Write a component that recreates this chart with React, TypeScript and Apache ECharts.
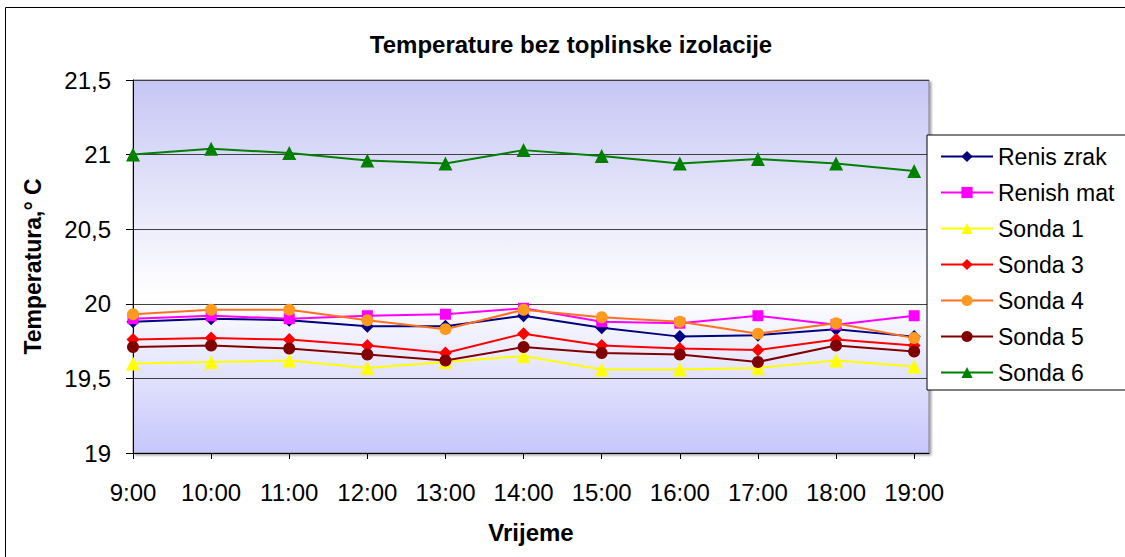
import React, { useEffect, useRef } from "react";
import * as echarts from "echarts";

const categories = ["9:00", "10:00", "11:00", "12:00", "13:00", "14:00", "15:00", "16:00", "17:00", "18:00", "19:00"];
const renisZrak = [19.88, 19.90, 19.89, 19.85, 19.85, 19.92, 19.84, 19.78, 19.79, 19.83, 19.78];
const renishMat = [19.90, 19.92, 19.90, 19.92, 19.93, 19.97, 19.88, 19.87, 19.92, 19.86, 19.92];
const sonda1 = [19.60, 19.61, 19.62, 19.57, 19.61, 19.65, 19.56, 19.56, 19.57, 19.62, 19.58];
const sonda3 = [19.76, 19.77, 19.76, 19.72, 19.67, 19.80, 19.72, 19.70, 19.69, 19.76, 19.72];
const sonda4 = [19.93, 19.96, 19.96, 19.89, 19.83, 19.96, 19.91, 19.88, 19.80, 19.87, 19.77];
const sonda5 = [19.71, 19.72, 19.70, 19.66, 19.62, 19.71, 19.67, 19.66, 19.61, 19.72, 19.68];
const sonda6 = [21.00, 21.04, 21.01, 20.96, 20.94, 21.03, 20.99, 20.94, 20.97, 20.94, 20.89];
const yTicks = [19, 19.5, 20, 20.5, 21, 21.5];

const seriesDefs = [
  { name: "Renis zrak", data: renisZrak, line: "#000080", mark: "#000080", symbol: "diamond", size: 13 },
  { name: "Renish mat", data: renishMat, line: "#ff00ff", mark: "#ff00ff", symbol: "rect", size: 11 },
  { name: "Sonda 1", data: sonda1, line: "#ffff00", mark: "#ffff00", symbol: "triangle", size: 14 },
  { name: "Sonda 3", data: sonda3, line: "#ff0000", mark: "#ff0000", symbol: "diamond", size: 13 },
  { name: "Sonda 4", data: sonda4, line: "#ff7020", mark: "#ff9a1f", symbol: "circle", size: 12 },
  { name: "Sonda 5", data: sonda5, line: "#800000", mark: "#800000", symbol: "circle", size: 12 },
  { name: "Sonda 6", data: sonda6, line: "#008000", mark: "#008000", symbol: "triangle", size: 14 },
];

const FONT = "Liberation Sans, Arial, sans-serif";

export default function App() {
  const ref = useRef<HTMLDivElement>(null);
  useEffect(() => {
    if (!ref.current) return;
    const chart = echarts.init(ref.current, undefined, { renderer: "svg" });
    const option: any = {
      animation: false,
      backgroundColor: "#ffffff",
      title: {
        text: "Temperature bez toplinske izolacije",
        left: 566,
        textAlign: "center",
        top: 27,
        textStyle: { fontFamily: FONT, fontSize: 24, fontWeight: "bold", color: "#000" },
      },
      graphic: [
        {
          type: "rect",
          shape: { x: 5.5, y: 7.5, width: 1140, height: 600 },
          style: { fill: "none", stroke: "#000", lineWidth: 1 },
          silent: true,
        },
      ],
      grid: {
        left: 133,
        top: 80,
        width: 796,
        height: 373,
        show: true,
        backgroundColor: new echarts.graphic.LinearGradient(0, 0, 0, 1, [
          { offset: 0, color: "#c6c6f5" },
          { offset: 0.58, color: "#ffffff" },
          { offset: 1, color: "#c6c6fb" },
        ]),
        borderColor: "#808080",
        borderWidth: 1,
        shadowColor: "rgba(0,0,0,0.35)",
        shadowOffsetX: 2,
        shadowOffsetY: 2,
        shadowBlur: 2,
      },
      legend: {
        orient: "vertical",
        left: 927,
        top: 135,
        backgroundColor: "#ffffff",
        borderColor: "#000",
        borderWidth: 1,
        padding: [10, 60, 6, 13],
        itemWidth: 52,
        itemHeight: 14,
        itemGap: 13,
        textStyle: { fontFamily: FONT, fontSize: 23, color: "#000", lineHeight: 23 },
        data: seriesDefs.map((s) => s.name),
      },
      xAxis: {
        type: "value",
        min: 0,
        max: 10.19,
        interval: 1,
        splitLine: { show: false },
        axisLine: { lineStyle: { color: "#000", width: 1 } },
        axisTick: { length: 6, lineStyle: { color: "#000" }, customValues: categories.map((_, i) => i) },
        axisLabel: {
          margin: 27,
          fontFamily: FONT,
          fontSize: 24,
          color: "#000",
          customValues: categories.map((_, i) => i),
          formatter: (v: number) => (Number.isInteger(v) && categories[v] !== undefined ? categories[v] : ""),
        },
        name: "Vrijeme",
        nameLocation: "middle",
        nameGap: 67,
        nameTextStyle: { fontFamily: FONT, fontSize: 24, fontWeight: "bold", color: "#000" },
      },
      yAxis: {
        type: "value",
        min: yTicks[0],
        max: yTicks[yTicks.length - 1],
        interval: 0.5,
        splitLine: { show: true, lineStyle: { color: "#404040", width: 1 } },
        axisLine: { show: true, lineStyle: { color: "#000", width: 1 } },
        axisTick: { show: true, length: 7, lineStyle: { color: "#000" } },
        axisLabel: {
          margin: 22,
          fontFamily: FONT,
          fontSize: 24,
          color: "#000",
          formatter: (v: number) => String(v).replace(".", ","),
        },
        name: "Temperatura,° C",
        nameLocation: "middle",
        nameGap: 89,
        nameTextStyle: { fontFamily: FONT, fontSize: 23, fontWeight: "bold", color: "#000" },
      },
      series: seriesDefs.map((s) => ({
        name: s.name,
        type: "line",
        data: s.data.map((v, i) => [i, v]),
        symbol: s.symbol,
        symbolSize: s.size,
        showAllSymbol: true,
        lineStyle: { color: s.line, width: 2 },
        itemStyle: { color: s.mark, borderWidth: 0 },
        color: s.mark,
        emphasis: { disabled: true },
      })),
    };
    chart.setOption(option);
    return () => chart.dispose();
  }, []);
  return (
    <div
      ref={ref}
      style={{ position: "absolute", left: 0, top: 0, width: 1125, height: 557 }}
    />
  );
}
